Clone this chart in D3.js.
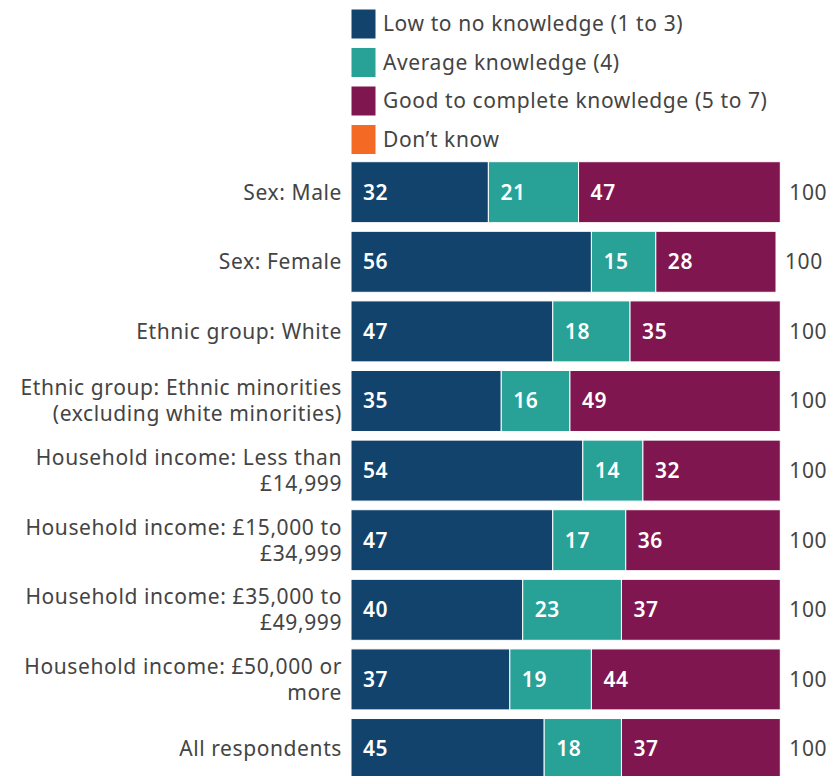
<!DOCTYPE html>
<html>
<head>
<meta charset="utf-8">
<script src="https://cdn.jsdelivr.net/npm/d3@7"></script>
<style>
  body { margin: 0; background: #fff; }
  svg { display: block; font-family: "Noto Sans", sans-serif; letter-spacing: 0.6px; }
</style>
</head>
<body>
<svg id="chart" width="835" height="776"></svg>
<script>
var categories = [
  "Sex: Male",
  "Sex: Female",
  "Ethnic group: White",
  "Ethnic group: Ethnic minorities|(excluding white minorities)",
  "Household income: Less than|£14,999",
  "Household income: £15,000 to|£34,999",
  "Household income: £35,000 to|£49,999",
  "Household income: £50,000 or|more",
  "All respondents"
];

var seriesNames = [
  "Low to no knowledge (1 to 3)",
  "Average knowledge (4)",
  "Good to complete knowledge (5 to 7)",
  "Don\u2019t know"
];
var seriesColors = ["#12436D", "#28A197", "#801650", "#F46A25"];

var lowKnowledge     = [32, 56, 47, 35, 54, 47, 40, 37, 45];
var averageKnowledge = [21, 15, 18, 16, 14, 17, 23, 19, 18];
var goodKnowledge    = [47, 28, 35, 49, 32, 36, 37, 44, 37];
var dontKnow         = [0, 0, 0, 0, 0, 0, 0, 0, 0];
var totals           = [100, 100, 100, 100, 100, 100, 100, 100, 100];

var FONT_SIZE = 21;

// build rows for the stack
var rows = categories.map(function(c, i) {
  return { cat: c, s0: lowKnowledge[i], s1: averageKnowledge[i], s2: goodKnowledge[i], s3: dontKnow[i], total: totals[i] };
});

var svg = d3.select("#chart");

var x = d3.scaleLinear().domain([0, 100]).range([351, 780.3]);
var y = d3.scaleBand().domain(categories).range([161.7, 779.5]).paddingInner(0.124);

var stack = d3.stack().keys(["s0", "s1", "s2", "s3"]);
var layers = stack(rows);

// legend
var legend = svg.append("g");
seriesNames.forEach(function(name, i) {
  var ly = 9 + i * 38.5;
  legend.append("rect")
    .attr("x", 351).attr("y", ly)
    .attr("width", 25).attr("height", 30)
    .attr("fill", seriesColors[i])
    .attr("stroke", "#fff").attr("stroke-width", 1);
  legend.append("text")
    .attr("x", 383).attr("y", ly + 15)
    .attr("dy", "0.35em")
    .attr("fill", "#444")
    .attr("font-size", FONT_SIZE)
    .text(name);
});

// bars
layers.forEach(function(layer, li) {
  var g = svg.append("g");
  var segs = g.selectAll("g")
    .data(layer.filter(function(d) { return d[1] - d[0] > 0; }))
    .enter().append("g");

  segs.append("rect")
    .attr("x", function(d) { return x(d[0]); })
    .attr("y", function(d) { return y(d.data.cat); })
    .attr("width", function(d) { return x(d[1]) - x(d[0]); })
    .attr("height", y.bandwidth())
    .attr("fill", seriesColors[li])
    .attr("stroke", "#fff")
    .attr("stroke-width", 1);

  segs.append("text")
    .attr("x", function(d) { return x(d[0]) + 12; })
    .attr("y", function(d) { return y(d.data.cat) + y.bandwidth() / 2; })
    .attr("dy", "0.35em")
    .attr("fill", "#fff")
    .attr("font-size", FONT_SIZE)
    .attr("font-weight", 600)
    .text(function(d) { return d[1] - d[0]; });
});

// totals
svg.append("g").selectAll("text")
  .data(rows)
  .enter().append("text")
  .attr("x", function(d) { return x(d.s0 + d.s1 + d.s2 + d.s3) + 9; })
  .attr("y", function(d) { return y(d.cat) + y.bandwidth() / 2; })
  .attr("dy", "0.35em")
  .attr("fill", "#444")
  .attr("font-size", FONT_SIZE)
  .text(function(d) { return d.total; });

// category labels
var labels = svg.append("g").selectAll("text")
  .data(categories)
  .enter().append("text")
  .attr("x", 342)
  .attr("y", function(d) { return y(d) + y.bandwidth() / 2; })
  .attr("text-anchor", "end")
  .attr("fill", "#444")
  .attr("font-size", FONT_SIZE);

labels.each(function(d) {
  var lines = d.split("|");
  var t = d3.select(this);
  var lh = 26;
  lines.forEach(function(line, i) {
    t.append("tspan")
      .attr("x", 342)
      .attr("dy", i === 0 ? (0.35 * FONT_SIZE - (lines.length - 1) * lh / 2) + "px" : lh + "px")
      .text(line);
  });
});
</script>
</body>
</html>
